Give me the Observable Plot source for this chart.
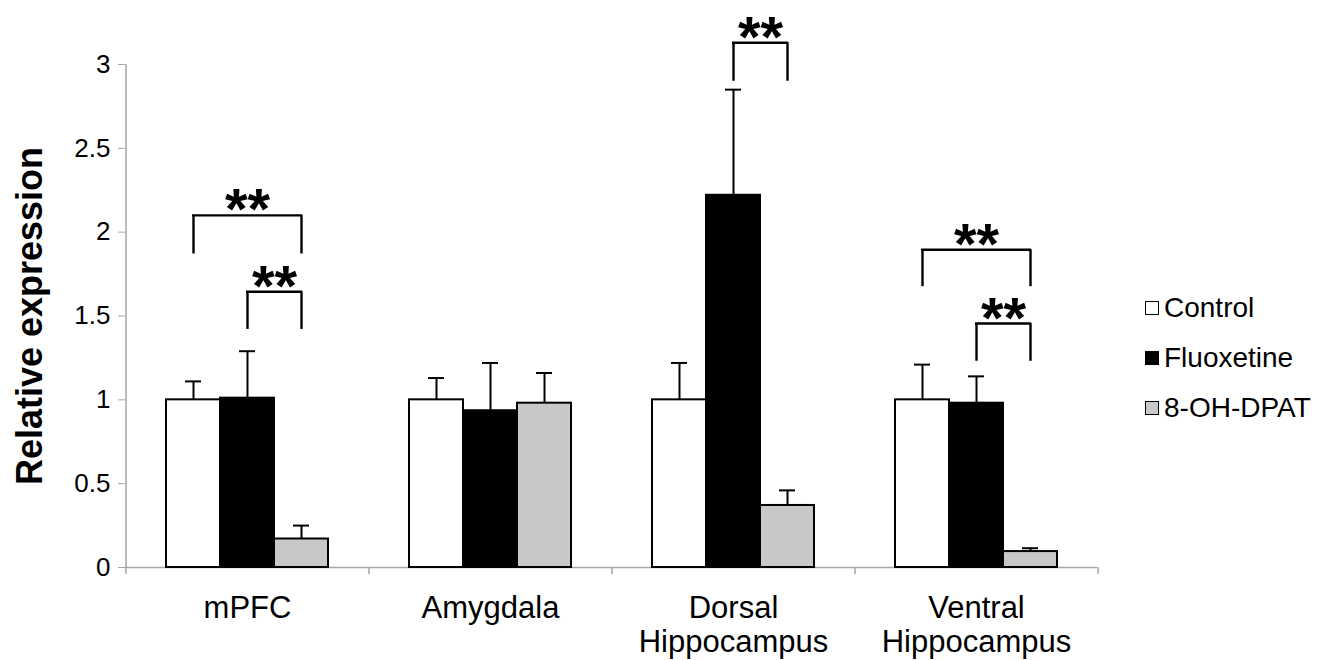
<!DOCTYPE html>
<html><head><meta charset="utf-8">
<script src="https://cdn.jsdelivr.net/npm/d3@7"></script>
<script src="https://cdn.jsdelivr.net/npm/@observablehq/plot@0.6"></script>
<style>
body{margin:0;background:#fff;font-family:"Liberation Sans",Arial,Helvetica,sans-serif;}
#wrap{position:relative;width:1320px;height:660px;}
#legend{position:absolute;left:1145px;top:283px;}
.row{display:flex;align-items:center;height:50px;font-size:28px;color:#000;}
.sw{width:12px;height:12px;border:1.5px solid #000;margin-right:5px;box-sizing:content-box;}
</style></head><body><div id="wrap"><div id="chart"></div><div id="legend"></div></div>
<script>
const regions = ["mPFC", "Amygdala", "Dorsal Hippocampus", "Ventral Hippocampus"];
const series = ["Control", "Fluoxetine", "8-OH-DPAT"];
const seriesFill = ["#ffffff", "#000000", "#c8c8c8"];
const controlMean = [1.00, 1.00, 1.00, 1.00];
const controlErr = [0.11, 0.13, 0.22, 0.21];
const fluoxetineMean = [1.01, 0.935, 2.22, 0.98];
const fluoxetineErr = [0.28, 0.285, 0.63, 0.16];
const dpatMean = [0.17, 0.98, 0.37, 0.095];
const dpatErr = [0.08, 0.18, 0.09, 0.02];
const yTicks = [0, 0.5, 1, 1.5, 2, 2.5, 3];
// significance brackets
const bracketRegion = ["mPFC", "mPFC", "Dorsal Hippocampus", "Ventral Hippocampus", "Ventral Hippocampus"];
const bracketFrom = ["Control", "Fluoxetine", "Fluoxetine", "Control", "Fluoxetine"];
const bracketTo = ["8-OH-DPAT", "8-OH-DPAT", "8-OH-DPAT", "8-OH-DPAT", "8-OH-DPAT"];
const bracketTop = [2.10, 1.645, 3.13, 1.895, 1.455];
const bracketLeg = [1.87, 1.42, 2.90, 1.675, 1.23];
const bracketLabel = ["**", "**", "**", "**", "**"];

const means = [controlMean, fluoxetineMean, dpatMean];
const errs = [controlErr, fluoxetineErr, dpatErr];
const font = "Liberation Sans, Arial, Helvetica, sans-serif";

const SUB = 54;       // sub-bar width (px)
const STEP = 243;     // category step (px)
const CAP = 8;        // half cap width

const marks = [];
series.forEach((s, j) => {
  const data = regions.map((r, i) => ({region: r, value: means[j][i], err: errs[j][i]}));
  marks.push(Plot.ruleX(data, {x: "region", y1: "value", y2: d => d.value + d.err, dx: (j - 1) * SUB, stroke: "#000", strokeWidth: 2}));
  marks.push(Plot.tickY(data, {x: "region", y: d => d.value + d.err, insetLeft: j * SUB + SUB / 2 - CAP, insetRight: (2 - j) * SUB + SUB / 2 - CAP, stroke: "#000", strokeWidth: 2}));
  marks.push(Plot.barY(data, {x: "region", y: "value", fill: seriesFill[j], stroke: "#000", strokeWidth: 2, insetLeft: j * SUB, insetRight: (2 - j) * SUB}));
});

bracketRegion.forEach((r, b) => {
  const a = series.indexOf(bracketFrom[b]);
  const c = series.indexOf(bracketTo[b]);
  const d = [{region: r, top: bracketTop[b], leg: bracketLeg[b], label: bracketLabel[b]}];
  marks.push(Plot.tickY(d, {x: "region", y: "top", insetLeft: a * SUB + SUB / 2 - 1, insetRight: (2 - c) * SUB + SUB / 2 - 1, stroke: "#000", strokeWidth: 2.4}));
  marks.push(Plot.ruleX(d, {x: "region", y1: "top", y2: "leg", dx: (a - 1) * SUB, stroke: "#000", strokeWidth: 2.4}));
  marks.push(Plot.ruleX(d, {x: "region", y1: "top", y2: "leg", dx: (c - 1) * SUB, stroke: "#000", strokeWidth: 2.4}));
  marks.push(Plot.text(d, {x: "region", y: "top", text: "label", dx: ((a + c) / 2 - 1) * SUB, dy: 14, lineAnchor: "bottom", fontSize: 58, fontWeight: "bold", fill: "#000"}));
});

const chart = Plot.plot({
  width: 1320,
  height: 660,
  marginLeft: 125,
  marginRight: 223,
  marginTop: 64,
  marginBottom: 93,
  style: {fontFamily: font, background: "#fff", color: "#000"},
  x: {type: "band", domain: regions, paddingInner: 1 / 3, paddingOuter: 1 / 6, axis: null},
  y: {domain: [0, 3], axis: null},
  marks: [
    Plot.ruleY([0], {stroke: "#a6a6a6", strokeWidth: 1.5}),
    Plot.ruleX([regions[0]], {x: d => d, y1: 3, y2: 0, dx: -STEP / 2, insetBottom: -7, stroke: "#a6a6a6", strokeWidth: 1.5}),
    Plot.ruleX(regions.slice(1), {x: d => d, y1: 0, y2: 0, dx: -STEP / 2, insetBottom: -7, stroke: "#a6a6a6", strokeWidth: 1.5}),
    Plot.ruleX([regions[regions.length - 1]], {x: d => d, y1: 0, y2: 0, dx: STEP / 2, insetBottom: -7, stroke: "#a6a6a6", strokeWidth: 1.5}),
    Plot.axisY(yTicks, {tickSize: 7, tickPadding: 8, fontSize: 26, stroke: "#a6a6a6", fill: "#000", tickFormat: d => String(d), label: null}),
    Plot.text(regions, {x: d => d, frameAnchor: "bottom", lineAnchor: "top", dy: 26, fontSize: 31, lineHeight: 1.1, text: d => d.replace(" ", "\n"), fill: "#000"}),
    Plot.text(["Relative expression"], {frameAnchor: "left", textAnchor: "middle", rotate: -90, dx: -95, fontSize: 36, fontWeight: "bold", fill: "#000"}),
    ...marks
  ]
});
document.getElementById("chart").appendChild(chart);

const legend = document.getElementById("legend");
series.forEach((s, j) => {
  const row = document.createElement("div");
  row.className = "row";
  const sw = document.createElement("div");
  sw.className = "sw";
  sw.style.background = seriesFill[j];
  const t = document.createElement("span");
  t.textContent = s;
  row.appendChild(sw);
  row.appendChild(t);
  legend.appendChild(row);
});
</script>
</body></html>
